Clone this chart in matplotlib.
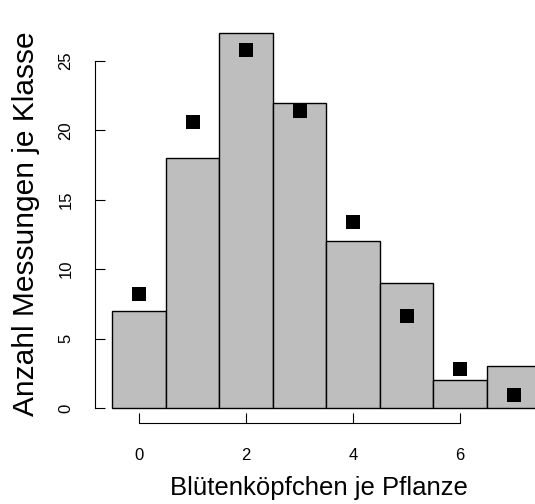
import matplotlib
matplotlib.use("Agg")
import matplotlib.pyplot as plt

# Data
categories = [0, 1, 2, 3, 4, 5, 6, 7]
observed = [7, 18, 27, 22, 12, 9, 2, 3]
expected = [8.2, 20.6, 25.8, 21.4, 13.4, 6.6, 2.8, 0.95]
xticks = [0, 2, 4, 6]
yticks = [0, 5, 10, 15, 20, 25]
xlabel = "Blütenköpfchen je Pflanze"
ylabel = "Anzahl Messungen je Klasse"

plt.rcParams['font.family'] = ['Liberation Sans', 'DejaVu Sans']

W, H = 535, 504
fig = plt.figure(figsize=(W / 100, H / 100), dpi=100)
ax = fig.add_axes([0, 0, 1, 1])
ax.patch.set_alpha(0)

# pixel mapping
px_per_x = 53.5
x0_px = 139
px_per_y = 13.88
y0_px = 408
ax.set_xlim((0 - x0_px) / px_per_x, (W - x0_px) / px_per_x)
ax.set_ylim((y0_px - H) / px_per_y, y0_px / px_per_y)

ax.bar(categories, observed, width=1.0, color='#bebebe', edgecolor='black',
       linewidth=1.0, zorder=2)
ax.scatter(categories, expected, marker='s', s=115, color='black',
           linewidths=0, zorder=3)

for s in ['top', 'right']:
    ax.spines[s].set_visible(False)
ax.spines['left'].set_position(('data', (95 - x0_px) / px_per_x))
ax.spines['bottom'].set_position(('data', (y0_px - 423) / px_per_y))
ax.spines['left'].set_bounds(0, 25)
ax.spines['bottom'].set_bounds(0, 6)
for s in ['left', 'bottom']:
    ax.spines[s].set_linewidth(0.8)

ax.set_xticks(xticks)
ax.set_yticks(yticks)
ax.tick_params(axis='both', direction='in', length=7.2, width=0.8,
               labelsize=12)
ax.tick_params(axis='x', pad=18)
ax.tick_params(axis='y', pad=15.5)
for lab in ax.get_yticklabels():
    lab.set_rotation(90)
    lab.set_va('center')

fig.text(319 / W, 1 - 488 / H, xlabel, fontsize=18.5, ha='center', va='center')
fig.text(26 / W, 1 - 224 / H, ylabel, fontsize=21.5, ha='center', va='center',
         rotation=90)

fig.savefig("out.png", dpi=100)
